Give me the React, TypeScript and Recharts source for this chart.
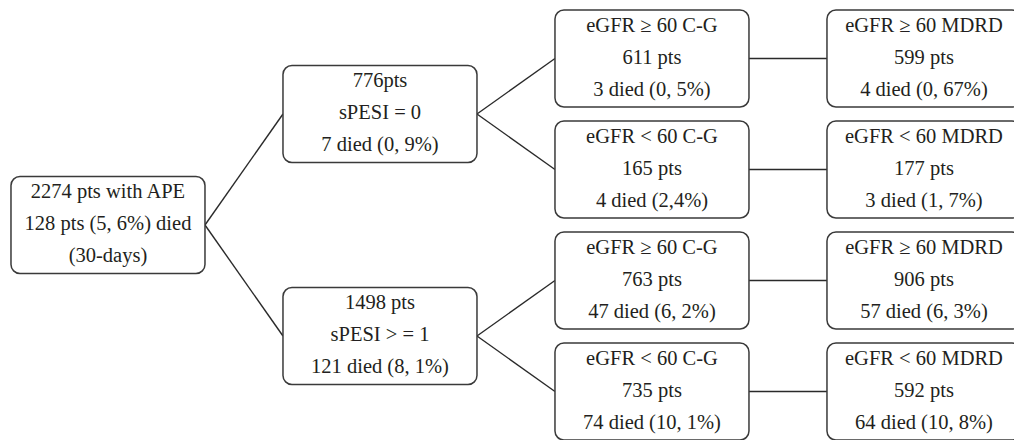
import React from 'react';
import { ComposedChart, XAxis, YAxis, Line, Scatter } from 'recharts';

// ---- Data (tree of patient groups) ----
const parentOf = [-1, 0, 0, 1, 1, 2, 2, 3, 4, 5, 6];
const line1 = [
  '2274 pts with APE',
  '776pts',
  '1498 pts',
  'eGFR ≥ 60 C-G',
  'eGFR < 60 C-G',
  'eGFR ≥ 60 C-G',
  'eGFR < 60 C-G',
  'eGFR ≥ 60 MDRD',
  'eGFR < 60 MDRD',
  'eGFR ≥ 60 MDRD',
  'eGFR < 60 MDRD',
];
const line2 = [
  '128 pts (5, 6%) died',
  'sPESI = 0',
  'sPESI > = 1',
  '611 pts',
  '165 pts',
  '763 pts',
  '735 pts',
  '599 pts',
  '177 pts',
  '906 pts',
  '592 pts',
];
const line3 = [
  '(30-days)',
  '7 died (0, 9%)',
  '121 died (8, 1%)',
  '3 died (0, 5%)',
  '4 died (2,4%)',
  '47 died (6, 2%)',
  '74 died (10, 1%)',
  '4 died (0, 67%)',
  '3 died (1, 7%)',
  '57 died (6, 3%)',
  '64 died (10, 8%)',
];

// ---- Layout config ----
const CHART_W = 1014;
const CHART_H = 440;
const X_DOMAIN: [number, number] = [-0.397, 3.331];
const Y_DOMAIN: [number, number] = [-0.527, 3.437];
const BOX_W = 194;
const BOX_H = 97;
const PX_PER_LEVEL = CHART_W / (X_DOMAIN[1] - X_DOMAIN[0]);
const HALF_LEVEL = BOX_W / 2 / PX_PER_LEVEL;
const TEXT_OFFSETS = [-33.5, -1.5, 30.5];
const INK = '#231f20';
const FONT = "'Liberation Serif', 'Times New Roman', serif";

// ---- Derive tree structure ----
const n = parentOf.length;
const children: number[][] = Array.from({ length: n }, () => []);
parentOf.forEach((p, i) => {
  if (p >= 0) children[p].push(i);
});
const level: number[] = parentOf.map(() => 0);
for (let i = 0; i < n; i++) {
  let d = 0;
  let p = parentOf[i];
  while (p >= 0) {
    d++;
    p = parentOf[p];
  }
  level[i] = d;
}
const slot: number[] = parentOf.map(() => 0);
let leafCounter = 0;
function assign(i: number): number {
  if (children[i].length === 0) {
    slot[i] = leafCounter++;
  } else {
    const s = children[i].map(assign);
    slot[i] = s.reduce((a, b) => a + b, 0) / s.length;
  }
  return slot[i];
}
assign(0);

const nodes = parentOf.map((_, i) => ({
  x: level[i],
  y: slot[i],
  l1: line1[i],
  l2: line2[i],
  l3: line3[i],
}));

const edges = parentOf
  .map((p, i) => ({ p, i }))
  .filter((e) => e.p >= 0)
  .map(({ p, i }) => [
    { x: level[p] + HALF_LEVEL, y: slot[p] },
    { x: level[i] - HALF_LEVEL, y: slot[i] },
  ]);

function NodeBox(props: any) {
  const { cx, cy, payload } = props;
  if (cx == null || cy == null) return null;
  const lines = [payload.l1, payload.l2, payload.l3];
  return (
    <g>
      <rect
        x={cx - BOX_W / 2}
        y={cy - BOX_H / 2}
        width={BOX_W}
        height={BOX_H}
        rx={9}
        ry={9}
        fill="#ffffff"
        stroke="#3a3a3a"
        strokeWidth={1.5}
      />
      {lines.map((t: string, k: number) => (
        <text
          key={k}
          x={cx}
          y={cy + TEXT_OFFSETS[k]}
          textAnchor="middle"
          dominantBaseline="central"
          fontFamily={FONT}
          fontSize={20.5}
          fill={INK}
        >
          {t}
        </text>
      ))}
    </g>
  );
}

export default function App() {
  return (
    <div style={{ position: 'absolute', left: 0, top: 0, width: CHART_W, height: CHART_H, background: '#fff' }}>
      <ComposedChart width={CHART_W} height={CHART_H} margin={{ top: 0, right: 0, bottom: 0, left: 0 }}>
        <XAxis type="number" dataKey="x" domain={X_DOMAIN} allowDataOverflow hide />
        <YAxis type="number" dataKey="y" domain={Y_DOMAIN} allowDataOverflow reversed hide />
        {edges.map((d, k) => (
          <Line
            key={`e${k}`}
            data={d}
            dataKey="y"
            type="linear"
            stroke="#2a2a2a"
            strokeWidth={1.4}
            dot={false}
            activeDot={false}
            isAnimationActive={false}
          />
        ))}
        <Scatter data={nodes} dataKey="y" shape={NodeBox} isAnimationActive={false} />
      </ComposedChart>
    </div>
  );
}
